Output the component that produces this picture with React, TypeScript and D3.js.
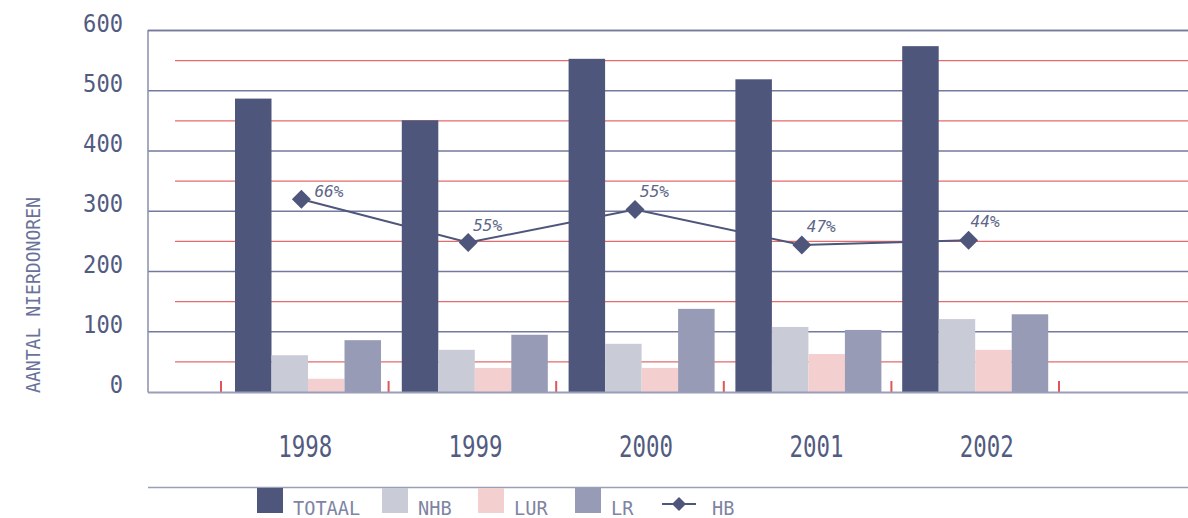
import React from 'react';
import * as d3 from 'd3';

const years = ['1998', '1999', '2000', '2001', '2002'];
const series = ['TOTAAL', 'NHB', 'LUR', 'LR'];
const totaal = [487, 451, 553, 519, 574];
const nhb = [61, 70, 80, 108, 121];
const lur = [22, 40, 40, 63, 70];
const lr = [86, 95, 138, 103, 129];
const hb = [320, 248, 303, 244, 252];
const hbLabels = ['66%', '55%', '55%', '47%', '44%'];
const yTicks = [0, 100, 200, 300, 400, 500, 600];
const minorTicks = [50, 150, 250, 350, 450, 550];

const colors: Record<string, string> = {
  TOTAAL: '#4e567b',
  NHB: '#c9cbd7',
  LUR: '#f4cfcf',
  LR: '#979bb5',
};
const lineColor = '#4e567b';
const textColor = '#525b80';
const legendText = '#7e84a2';
const FONT = "'DejaVu Sans Mono', monospace";

const W = 1188;
const H = 518;

export default function App() {
  const values: Record<string, number[]> = { TOTAAL: totaal, NHB: nhb, LUR: lur, LR: lr };
  const y = d3.scaleLinear().domain([0, 600]).range([392, 30.5]);
  // bar groups
  const x0 = d3.scaleBand<string>().domain(years).range([223, 1057]).padding(0);
  const x1 = d3.scaleBand<string>().domain(series).range([12, 158]).padding(0);
  // category tick marks
  const xTick = d3.scaleBand<string>().domain(years).range([221, 1059]).padding(0);
  // category labels
  const xLabel = d3.scaleBand<string>().domain(years).range([220, 1072]).padding(0);
  const bw = x0.bandwidth();
  const hbX = (i: number) => (x0(years[i]) as number) + bw * 0.47;
  const lineGen = d3
    .line<number>()
    .x((_, i) => hbX(i))
    .y((d) => y(d));
  const labelOffsets = [
    [13, -7],
    [5, -17],
    [5, -17],
    [5, -18],
    [2, -18],
  ];
  const diamond = (cx: number, cy: number, r: number) =>
    `M${cx},${cy - r}L${cx + r},${cy}L${cx},${cy + r}L${cx - r},${cy}Z`;
  const boundaries = [...years.map((yr) => xTick(yr) as number), 1059];

  const legendItems = [
    { key: 'TOTAAL', x: 257 },
    { key: 'NHB', x: 382 },
    { key: 'LUR', x: 478 },
    { key: 'LR', x: 575 },
  ];

  return (
    <svg
      width={W}
      height={H}
      style={{ position: 'absolute', left: 0, top: 0, display: 'block', background: '#fff' }}
    >
      {minorTicks.map((t) => (
        <line key={'r' + t} x1={175} x2={W} y1={y(t)} y2={y(t)} stroke="#e36b6b" strokeWidth={1.3} />
      ))}
      {yTicks.slice(1).map((t) => (
        <line key={'g' + t} x1={148} x2={W} y1={y(t)} y2={y(t)} stroke="#737a9d" strokeWidth={1.3} />
      ))}
      <path d={lineGen(hb) || ''} fill="none" stroke={lineColor} strokeWidth={2} />
      {years.map((yr, i) => (
        <g key={yr} transform={`translate(${x0(yr)},0)`}>
          {series.map((s) => (
            <rect
              key={s}
              x={x1(s)}
              y={y(values[s][i])}
              width={x1.bandwidth()}
              height={y(0) - y(values[s][i])}
              fill={colors[s]}
            />
          ))}
        </g>
      ))}
      {boundaries.map((b, i) => (
        <line key={'t' + i} x1={b} x2={b} y1={381} y2={392} stroke="#e05555" strokeWidth={2} />
      ))}
      <line x1={148} x2={148} y1={30} y2={392.5} stroke="#8a8fac" strokeWidth={1.5} />
      <line x1={148} x2={W} y1={392.5} y2={392.5} stroke="#9a9eb8" strokeWidth={2} />
      <line x1={148} x2={W} y1={30.5} y2={30.5} stroke="#737a9d" strokeWidth={1.3} />
      {hb.map((v, i) => (
        <g key={'hb' + i}>
          <path d={diamond(hbX(i), y(v), 9.5)} fill={lineColor} />
          <text
            x={hbX(i) + labelOffsets[i][0]}
            y={y(v) + labelOffsets[i][1] + 5}
            fontFamily={FONT}
            fontSize={15}
            fontStyle="italic"
            fill="#5d6588"
            textLength={29}
            lengthAdjust="spacingAndGlyphs"
          >
            {hbLabels[i]}
          </text>
        </g>
      ))}
      {yTicks.map((t) => (
        <text
          key={'yl' + t}
          x={123}
          y={y(t) + 1}
          textAnchor="end"
          fontFamily={FONT}
          fontSize={25}
          fill={textColor}
          textLength={String(t).length * 13.3}
          lengthAdjust="spacingAndGlyphs"
        >
          {t}
        </text>
      ))}
      {years.map((yr) => (
        <text
          key={'xl' + yr}
          x={(xLabel(yr) as number) + xLabel.bandwidth() / 2}
          y={457}
          textAnchor="middle"
          fontFamily={FONT}
          fontSize={30}
          fill={textColor}
          textLength={54}
          lengthAdjust="spacingAndGlyphs"
        >
          {yr}
        </text>
      ))}
      <text
        transform="translate(40,295) rotate(-90)"
        textAnchor="middle"
        fontFamily={FONT}
        fontSize={19}
        fill="#6a729a"
        textLength={196}
        lengthAdjust="spacingAndGlyphs"
      >
        AANTAL NIERDONOREN
      </text>
      <line x1={148} x2={W} y1={487.5} y2={487.5} stroke="#9a9eb8" strokeWidth={1.5} />
      {legendItems.map((it) => (
        <g key={'lg' + it.key}>
          <rect x={it.x} y={488} width={26} height={25} fill={colors[it.key]} />
          <text
            x={it.x + 36}
            y={515}
            fontFamily={FONT}
            fontSize={19}
            fill={legendText}
            textLength={it.key.length * 11.2}
            lengthAdjust="spacingAndGlyphs"
          >
            {it.key}
          </text>
        </g>
      ))}
      <line x1={662} x2={696} y1={504} y2={504} stroke={lineColor} strokeWidth={2} />
      <path d={diamond(679, 504, 7)} fill={lineColor} />
      <text
        x={712}
        y={515}
        fontFamily={FONT}
        fontSize={19}
        fill={legendText}
        textLength={22.4}
        lengthAdjust="spacingAndGlyphs"
      >
        HB
      </text>
    </svg>
  );
}
